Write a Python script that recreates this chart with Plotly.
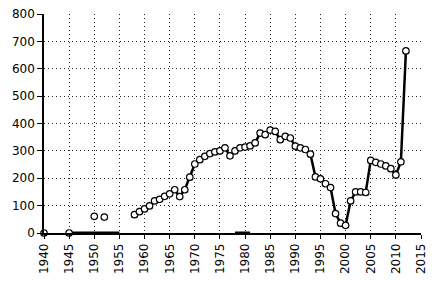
import plotly.graph_objects as go

# Main connected series
years = list(range(1958, 2013))
values = [67, 78, 88, 99, 117, 123, 134, 143, 158, 133,
          158, 204, 252, 268, 280, 290, 296, 300, 311, 282,
          300, 311, 314, 318, 329, 365, 359, 376, 371, 341,
          353, 347, 317, 311, 305, 288, 205, 198, 180, 166,
          71, 36, 28, 117, 150, 150, 148, 265, 258, 252,
          245, 235, 212, 260, 665]

# Isolated early points
early_years = [1940, 1945, 1950, 1952]
early_values = [0, 0, 61, 58]

# Zero-level segments
zero_years_a = [1945, 1955]
zero_years_b = [1978, 1981]
zero_vals = [0, 0]

x_ticks = list(range(1940, 2016, 5))
y_ticks = list(range(0, 801, 100))

fig = go.Figure()
for zy in (zero_years_a, zero_years_b):
    fig.add_trace(go.Scatter(x=zy, y=zero_vals, mode="lines",
                             line=dict(color="black", width=3),
                             showlegend=False, hoverinfo="skip", cliponaxis=False))
fig.add_trace(go.Scatter(x=years, y=values, mode="lines+markers",
                         line=dict(color="black", width=2.5),
                         marker=dict(symbol="circle", size=6.5, color="white",
                                     line=dict(color="black", width=1.2)),
                         showlegend=False, cliponaxis=False))
fig.add_trace(go.Scatter(x=early_years, y=early_values, mode="markers",
                         marker=dict(symbol="circle", size=6.5, color="white",
                                     line=dict(color="black", width=1.2)),
                         showlegend=False, cliponaxis=False))

fig.update_layout(
    width=435, height=282,
    margin=dict(l=44, r=10, t=7, b=49),
    paper_bgcolor="white", plot_bgcolor="white",
    font=dict(family="DejaVu Sans", size=12, color="black"),
)
grid = dict(showgrid=True, gridcolor="#222", griddash="1px,3px", gridwidth=1)
fig.update_xaxes(range=[1940, 2015], tickvals=x_ticks, ticktext=[str(v) for v in x_ticks],
                 tickangle=-90, ticks="outside", ticklen=4, tickcolor="black",
                 showline=True, linecolor="black", linewidth=1.5,
                 zeroline=False, **grid)
fig.update_yaxes(range=[0, 800], tickvals=y_ticks,
                 ticks="outside", ticklen=5, tickcolor="black",
                 showline=True, linecolor="black", linewidth=1.5,
                 zeroline=False, **grid)

fig.write_html("out.html")
